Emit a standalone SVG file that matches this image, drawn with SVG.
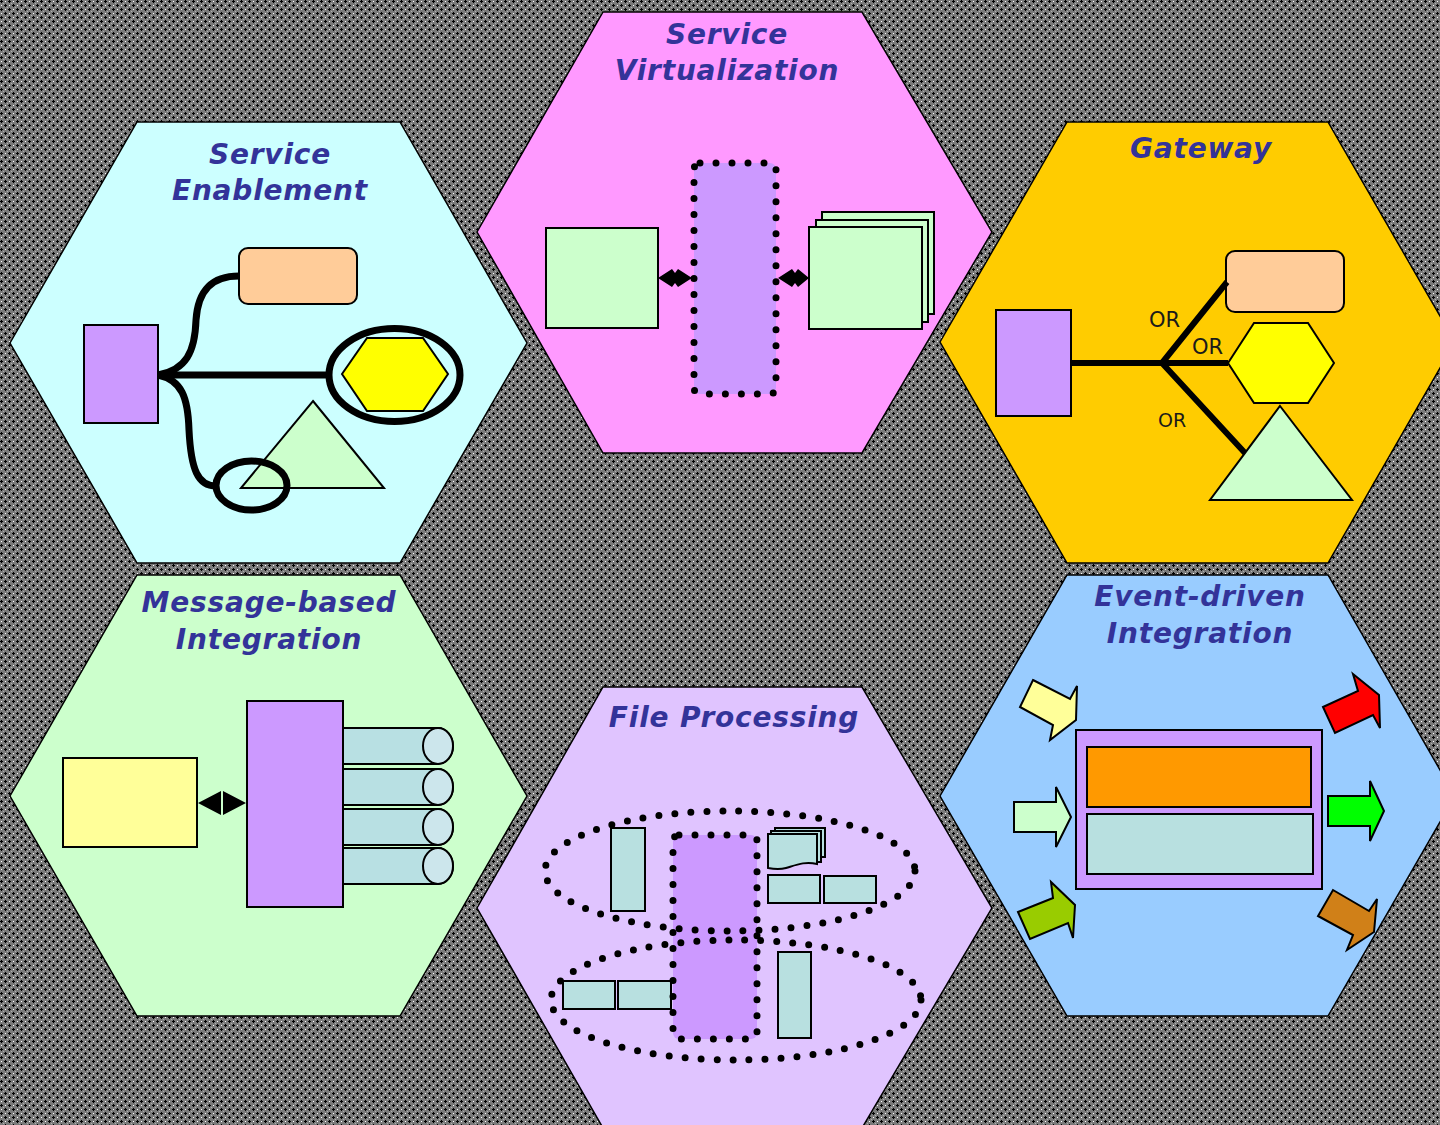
<svg xmlns="http://www.w3.org/2000/svg" width="1440" height="1125" viewBox="0 0 1440 1125">
<defs>
<pattern id="bg" width="8" height="8" patternUnits="userSpaceOnUse">
<rect width="8" height="8" fill="#7a7a7a"/>
<path d="M1 0h1v1h1v1h-1v1h-1v-1h-1v-1h1z" fill="#000"/>
<path d="M5 4h1v1h1v1h-1v1h-1v-1h-1v-1h1z" fill="#000"/>
<rect x="5" y="1" width="1" height="1" fill="#fff"/>
<rect x="1" y="5" width="1" height="1" fill="#fff"/>
<rect x="3" y="3" width="1" height="1" fill="#b0b0b0"/>
<rect x="7" y="7" width="1" height="1" fill="#b0b0b0"/>
</pattern>
<style>
.hex{stroke:#000;stroke-width:1.5}
.title{font-family:"DejaVu Sans","Verdana",sans-serif;font-weight:bold;font-style:italic;font-size:28px;letter-spacing:0.8px;fill:#333399;text-anchor:middle}
.or{font-family:"DejaVu Sans",sans-serif;fill:#1a1a1a}
.box{stroke:#000;stroke-width:2}
.thick{fill:none;stroke:#000;stroke-width:7}
.dots{fill:none;stroke:#000;stroke-width:7;stroke-dasharray:0 16;stroke-linecap:round}
.arr{stroke:#000;stroke-width:2;stroke-linejoin:miter}
</style>
</defs>
<rect width="1440" height="1125" fill="url(#bg)"/>

<g id="service-enablement">
<polygon class="hex" points="10,343 137,122 400,122 527,343 400,563 137,563" fill="#CCFFFF"/>
<text class="title" x="270" y="164">Service</text>
<text class="title" x="270" y="200">Enablement</text>
<rect class="box" x="84" y="325" width="74" height="98" fill="#CC99FF"/>
<rect class="box" x="239" y="248" width="118" height="56" rx="9" fill="#FFCC99"/>
<polygon class="box" points="342,374 367,338 423,338 448,374 423,411 367,411" fill="#FFFF00"/>
<ellipse class="thick" cx="394.5" cy="375" rx="65.5" ry="46.5"/>
<polygon class="box" points="313,401 384,488 241,488" fill="#CCFFCC" stroke-width="1.5"/>
<ellipse class="thick" cx="251.5" cy="485.5" rx="35.5" ry="24.5"/>
</g>

<g id="service-virtualization">
<polygon class="hex" points="477,232 603,12 862,12 992,232 862,453 603,453" fill="#FF99FF"/>
<text class="title" x="727" y="44">Service</text>
<text class="title" x="727" y="80">Virtualization</text>
<rect class="box" x="546" y="228" width="112" height="100" fill="#CCFFCC"/>
<rect x="694" y="163" width="82" height="231" rx="6" fill="#CC99FF"/>
<rect class="dots" x="694" y="163" width="82" height="231" rx="6"/>
<rect class="box" x="822" y="212" width="112" height="102" fill="#CCFFCC"/>
<rect class="box" x="816" y="220" width="112" height="102" fill="#CCFFCC"/>
<rect class="box" x="809" y="227" width="113" height="102" fill="#CCFFCC"/>
</g>

<g id="gateway">
<polygon class="hex" points="940,342 1067,122 1328,122 1455,342 1328,563 1067,563" fill="#FFCC00"/>
<text class="title" x="1201" y="158">Gateway</text>
<rect class="box" x="996" y="310" width="75" height="106" fill="#CC99FF"/>
<rect class="box" x="1226" y="251" width="118" height="61" rx="9" fill="#FFCC99"/>
<polygon class="box" points="1228,363 1254,323 1308,323 1334,363 1308,403 1254,403" fill="#FFFF00"/>
<polygon class="box" points="1280,406 1352,500 1210,500" fill="#CCFFCC" stroke-width="1.5"/>
<text class="or" x="1149" y="327" font-size="21">OR</text>
<text class="or" x="1192" y="354" font-size="21">OR</text>
<text class="or" x="1158" y="427" font-size="19">OR</text>
</g>

<g id="message-based-integration">
<polygon class="hex" points="10,796 137,575 400,575 527,796 400,1016 137,1016" fill="#CCFFCC"/>
<text class="title" x="269" y="612">Message-based</text>
<text class="title" x="269" y="649">Integration</text>
<rect class="box" x="63" y="758" width="134" height="89" fill="#FFFF99"/>
<rect class="box" x="247" y="701" width="96" height="206" fill="#CC99FF"/>
<g fill="#B8E0E3" stroke="#000" stroke-width="2">
<path d="M343,728 H438 A15,18 0 0 1 438,764 H343 Z"/>
<ellipse cx="438" cy="746" rx="15" ry="18" fill="#CCE6EC"/>
<path d="M343,769 H438 A15,18 0 0 1 438,805 H343 Z"/>
<ellipse cx="438" cy="787" rx="15" ry="18" fill="#CCE6EC"/>
<path d="M343,809 H438 A15,18 0 0 1 438,845 H343 Z"/>
<ellipse cx="438" cy="827" rx="15" ry="18" fill="#CCE6EC"/>
<path d="M343,848 H438 A15,18 0 0 1 438,884 H343 Z"/>
<ellipse cx="438" cy="866" rx="15" ry="18" fill="#CCE6EC"/>
</g>
</g>

<g id="file-processing">
<polygon class="hex" points="477,908 603,687 862,687 992,908 862,1128 603,1128" fill="#E0C4FF"/>
<text class="title" x="734" y="727">File Processing</text>
<rect x="673" y="835" width="84" height="204" rx="6" fill="#CC99FF"/>
<rect class="box" x="611" y="828" width="34" height="83" fill="#B8E0E0"/>
<rect class="box" x="775" y="828" width="50" height="29" fill="#B8E0E0"/>
<rect class="box" x="771" y="831" width="50" height="31" fill="#B8E0E0"/>
<path class="box" d="M768,834 H817 V864 C805,861 796,865 786,868 C779,870 773,869 768,868 Z" fill="#B8E0E0"/>
<rect class="box" x="768" y="875" width="52" height="28" fill="#B8E0E0"/>
<rect class="box" x="824" y="876" width="52" height="27" fill="#B8E0E0"/>
<rect class="box" x="563" y="981" width="52" height="28" fill="#B8E0E0"/>
<rect class="box" x="618" y="981" width="53" height="28" fill="#B8E0E0"/>
<rect class="box" x="778" y="952" width="33" height="86" fill="#B8E0E0"/>
<rect class="dots" x="673" y="835" width="84" height="204" rx="6"/>
<ellipse class="dots" cx="730" cy="871" rx="185" ry="60"/>
<ellipse class="dots" cx="736" cy="1000" rx="185" ry="60"/>
</g>

<g id="event-driven-integration">
<polygon class="hex" points="940,796 1067,575 1328,575 1455,796 1328,1016 1067,1016" fill="#99CCFF"/>
<text class="title" x="1200" y="606">Event-driven</text>
<text class="title" x="1200" y="643">Integration</text>
<rect class="box" x="1076" y="730" width="246" height="159" fill="#CC99FF"/>
<rect class="box" x="1087" y="747" width="224" height="60" fill="#FF9900"/>
<rect class="box" x="1087" y="814" width="226" height="60" fill="#B8E0E0"/>
<polygon class="arr" points="1033,680 1070,699 1077,686 1076,720 1050,740 1053,725 1020,707" fill="#FFFF99"/>
<polygon class="arr" points="1014,802 1056,802 1056,787 1071,817 1056,847 1056,832 1014,832" fill="#CCFFCC"/>
<polygon class="arr" points="1018,912 1053,898 1051,882 1075,905 1073,938 1068,923 1030,939" fill="#99CC00"/>
<polygon class="arr" points="1323,707 1358,691 1353,674 1379,695 1380,728 1373,715 1335,733" fill="#FF0000"/>
<polygon class="arr" points="1328,796 1370,796 1370,781 1384,811 1370,841 1370,826 1328,826" fill="#00FF00"/>
<polygon class="arr" points="1333,890 1369,911 1377,899 1374,932 1347,950 1353,935 1318,916" fill="#D08018"/>
</g>

<g id="connectors">
<path class="thick" d="M158,375 H329"/>
<path class="thick" d="M158,375 C186,370 195,352 196,320 C198,290 212,276 239,276"/>
<path class="thick" d="M158,375 C182,380 188,398 189,430 C191,470 198,486 216,486"/>
<path d="M1071,363 H1228 M1162,363 L1227,282 M1162,363 L1245,453" fill="none" stroke="#000" stroke-width="6"/>
<path d="M658,278 L672,269 L675,273 L678,269 L692,278 L678,287 L675,283 L672,287 Z" fill="#000"/>
<path d="M778,278 L792,269 L795,273 L798,269 L809,278 L798,287 L795,283 L792,287 Z" fill="#000"/>
<path d="M198,803 L221,791 L221,815 Z M246,803 L223,791 L223,815 Z" fill="#000"/>
</g>
</svg>
